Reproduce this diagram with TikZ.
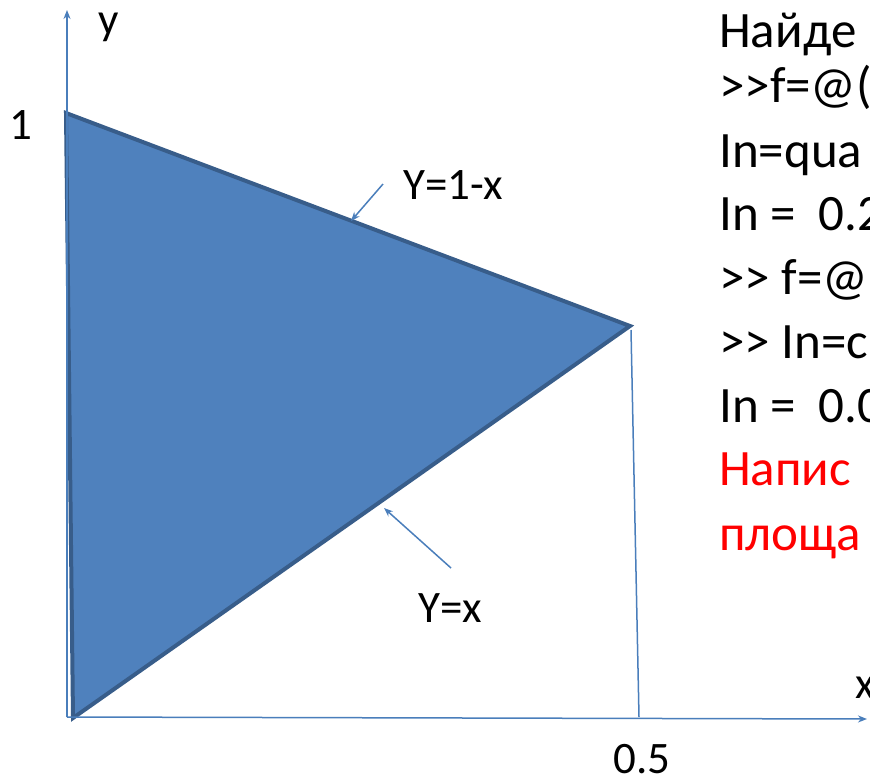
\documentclass[tikz,border=0pt]{standalone}
\usepackage{fontspec}
\setmainfont{Carlito}[Ligatures=TeXOff]
\usetikzlibrary{arrows.meta}
\definecolor{areablue}{RGB}{79,129,189}
\definecolor{edgeblue}{RGB}{56,93,138}
\definecolor{axisblue}{RGB}{74,126,187}

\begin{document}
\begin{tikzpicture}[x=1pt, y=-1pt,
    lbl/.style={font=\fontsize{45}{54}\selectfont, inner sep=0pt},
    txt/.style={font=\fontsize{51}{61}\selectfont, inner sep=0pt, anchor=base west},
    axis/.style={draw=axisblue, line width=1.5pt, -{Stealth[length=9pt, width=7pt]}},
    pointer/.style={draw=axisblue, line width=1.5pt, -{Stealth[length=9pt, width=7pt, open]}}
]
\useasboundingbox (0,0) rectangle (870,777);
\clip (0,0) rectangle (870,777);

% triangle between y=x and y=1-x
\coordinate (top) at (66,113);
\coordinate (tip) at (630,326);
\coordinate (bot) at (73,718);
\fill[areablue] (top) -- (tip) -- (bot) -- cycle;
\draw[edgeblue, line width=4pt, line join=miter] (top) -- (tip) -- (bot) -- cycle;

% axes
\coordinate (o) at (67,717);
\coordinate (yend) at (67,10);
\coordinate (xend) at (867,719);
\coordinate (half) at (639,717);
\draw[axis] (o) -- (yend);
\draw[axis] (o) -- (xend);
\draw[draw=axisblue, line width=1.5pt] (tip) ++(1,4) -- (half);

% labels
\node[lbl] (ylab) at (109,27) {y};
\node[lbl] (one) at (21,125) {1};
\node[lbl] (xlab) at (865,688) {x};
\node[lbl] (halflab) at (642,759) {0.5};
\node[lbl] (upper) at (453,185) {Y=1-x};
\node[lbl] (lower) at (450,608) {Y=x};

% pointers to the edges
\coordinate (p1) at (383,184);
\coordinate (e1) at (351,221);
\coordinate (p2) at (451,568);
\coordinate (e2) at (384,508);
\draw[pointer] (p1) -- (e1);
\draw[pointer] (p2) -- (e2);

% commands on the right
\node[txt] (l1) at (719,47) {Найде};
\node[txt] (l2) at (719,102) {>>f=@(};
\node[txt] (l3) at (719,167) {In=qua};
\node[txt] (l4) at (719,230) {In =\ \ 0.2};
\node[txt] (l5) at (719,294) {>> f=@};
\node[txt] (l6) at (719,358) {>> In=c};
\node[txt] (l7) at (719,422) {In =\ \ 0.0};
\node[txt, red] (l8) at (719,485) {Напис};
\node[txt, red] (l9) at (719,550) {площа};
\end{tikzpicture}
\end{document}
